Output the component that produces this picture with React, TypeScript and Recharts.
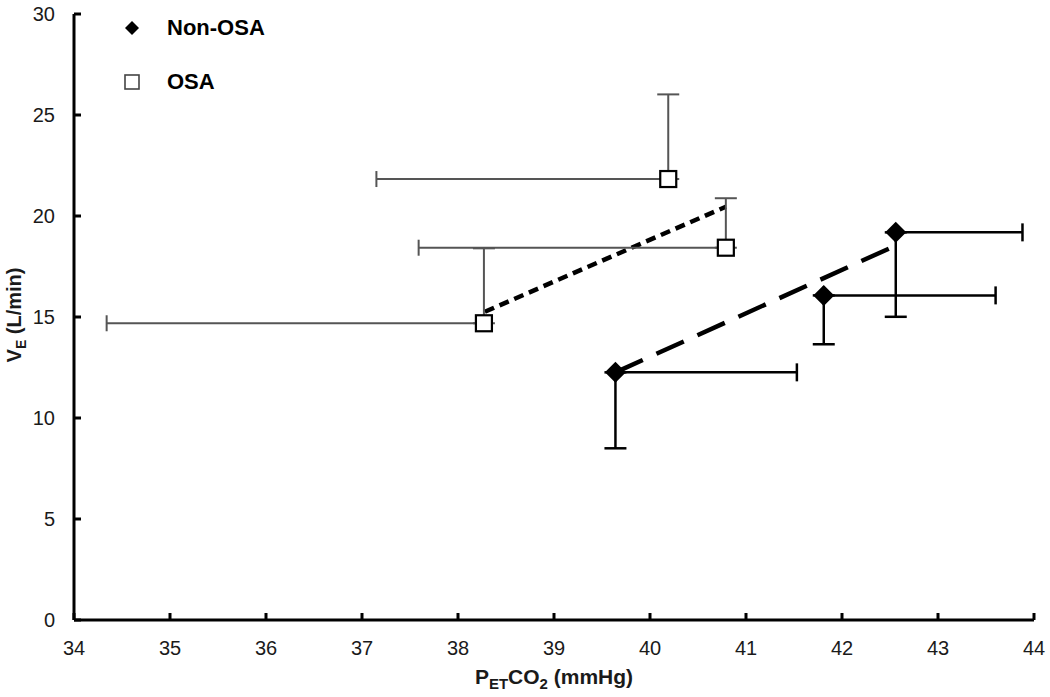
import React from "react";
import {
  ComposedChart,
  Scatter,
  XAxis,
  YAxis,
  ErrorBar,
  ReferenceLine,
  Legend,
} from "recharts";

// ---- data ----
const xTicks = [34, 35, 36, 37, 38, 39, 40, 41, 42, 43, 44];
const yTicks = [0, 5, 10, 15, 20, 25, 30];

const nonOsaX = [39.64, 41.81, 42.56];
const nonOsaY = [12.26, 16.07, 19.19];
const nonOsaXErrRight = [1.89, 1.79, 1.32];
const nonOsaYErrDown = [3.76, 2.42, 4.18];

const osaX = [38.27, 40.19, 40.79];
const osaY = [14.69, 21.83, 18.43];
const osaXErrLeft = [3.93, 3.04, 3.2];
const osaYErrUp = [3.71, 4.19, 2.45];

const osaTrendX = [38.28, 40.79];
const osaTrendY = [15.26, 20.46];
const nonOsaTrendX = [39.64, 42.57];
const nonOsaTrendY = [12.26, 18.56];

const nonOsaData = nonOsaX.map((x, i) => ({
  x,
  y: nonOsaY[i],
  ex: [0, nonOsaXErrRight[i]],
  ey: [nonOsaYErrDown[i], 0],
}));
const osaData = osaX.map((x, i) => ({
  x,
  y: osaY[i],
  ex: [osaXErrLeft[i], 0],
  ey: [0, osaYErrUp[i]],
}));

const FONT = "'Liberation Sans', Arial, sans-serif";

const Diamond = (props: any) => {
  const { cx, cy } = props;
  const r = 10.5;
  return (
    <path
      d={`M${cx},${cy - r}L${cx + r},${cy}L${cx},${cy + r}L${cx - r},${cy}Z`}
      fill="#000"
    />
  );
};

const Square = (props: any) => {
  const { cx, cy } = props;
  const h = 8;
  return (
    <rect
      x={cx - h}
      y={cy - h}
      width={2 * h}
      height={2 * h}
      fill="#fff"
      stroke="#000"
      strokeWidth={2.2}
    />
  );
};

const XTick = (props: any) => {
  const { x, y, payload } = props;
  return (
    <g>
      <line x1={x} x2={x} y1={y} y2={y - 7} stroke="#000" strokeWidth={3} />
      <text
        x={x}
        y={y + 35}
        textAnchor="middle"
        fontFamily={FONT}
        fontSize={20}
        fill="#1a1a1a"
      >
        {payload.value}
      </text>
    </g>
  );
};

const YTick = (props: any) => {
  const { x, y, payload } = props;
  return (
    <g>
      <line x1={x} x2={x + 7} y1={y} y2={y} stroke="#000" strokeWidth={3} />
      <text
        x={x - 19}
        y={y + 7}
        textAnchor="end"
        fontFamily={FONT}
        fontSize={20}
        fill="#1a1a1a"
      >
        {payload.value}
      </text>
    </g>
  );
};

const LegendContent = () => (
  <div style={{ fontFamily: FONT, fontWeight: "bold", fontSize: 22, color: "#000" }}>
    <div style={{ position: "absolute", left: 0, top: 0, width: 200, height: 40 }}>
      <svg width={30} height={30} style={{ position: "absolute", left: 117, top: 13 }}>
        <path d="M15,8L22,15L15,22L8,15Z" fill="#000" />
      </svg>
      <span style={{ position: "absolute", left: 167, top: 15, whiteSpace: "nowrap", lineHeight: "26px" }}>
        Non-OSA
      </span>
    </div>
    <div style={{ position: "absolute", left: 0, top: 54, width: 200, height: 40 }}>
      <svg width={30} height={30} style={{ position: "absolute", left: 117, top: 13 }}>
        <rect x={8} y={8} width={14} height={14} fill="#fff" stroke="#444" strokeWidth={1.6} />
      </svg>
      <span style={{ position: "absolute", left: 167, top: 15, whiteSpace: "nowrap", lineHeight: "26px" }}>
        OSA
      </span>
    </div>
  </div>
);

export default function App() {
  return (
    <div style={{ position: "absolute", left: 0, top: 0, width: 1050, height: 697, background: "#fff" }}>
      <ComposedChart
        width={1050}
        height={697}
        margin={{ top: 14, right: 16, bottom: 0, left: 0 }}
      >
        <XAxis
          type="number"
          dataKey="x"
          domain={[34, 44]}
          ticks={xTicks}
          allowDataOverflow
          height={77}
          axisLine={{ stroke: "#000", strokeWidth: 3 }}
          tickLine={false}
          tickSize={0}
          tickMargin={0}
          tick={<XTick />}
          interval={0}
          label={{
            content: () => (
              <text
                x={554}
                y={684}
                textAnchor="middle"
                fontFamily={FONT}
                fontWeight="bold"
                fontSize={21}
                fill="#1a1a1a"
              >
                P
                <tspan fontSize={15} dy={5}>ET</tspan>
                <tspan dy={-5}>CO</tspan>
                <tspan fontSize={15} dy={5}>2</tspan>
                <tspan dy={-5}> (mmHg)</tspan>
              </text>
            ),
          }}
        />
        <YAxis
          type="number"
          dataKey="y"
          domain={[0, 30]}
          ticks={yTicks}
          allowDataOverflow
          width={74}
          axisLine={{ stroke: "#000", strokeWidth: 3 }}
          tickLine={false}
          tickSize={0}
          tickMargin={0}
          tick={<YTick />}
          interval={0}
          label={{
            content: () => (
              <text
                x={0}
                y={0}
                transform="translate(21,315) rotate(-90)"
                textAnchor="middle"
                fontFamily={FONT}
                fontWeight="bold"
                fontSize={20}
                fill="#1a1a1a"
              >
                V
                <tspan fontSize={14} dy={5}>E</tspan>
                <tspan dy={-5}> (L/min)</tspan>
              </text>
            ),
          }}
        />
        <Legend
          layout="horizontal"
          verticalAlign="middle"
          align="center"
          wrapperStyle={{ position: "absolute", left: 0, top: 0, width: 300, height: 100 }}
          content={<LegendContent />}
        />
        <ReferenceLine
          segment={[
            { x: osaTrendX[0], y: osaTrendY[0] },
            { x: osaTrendX[1], y: osaTrendY[1] },
          ]}
          stroke="#000"
          strokeWidth={4.5}
          strokeDasharray="10 6"
          ifOverflow="visible"
        />
        <ReferenceLine
          segment={[
            { x: nonOsaTrendX[0], y: nonOsaTrendY[0] },
            { x: nonOsaTrendX[1], y: nonOsaTrendY[1] },
          ]}
          stroke="#000"
          strokeWidth={4.5}
          strokeDasharray="30 15"
          ifOverflow="visible"
        />
        <Scatter
          name="OSA"
          data={osaData}
          shape={<Square />}
          isAnimationActive={false}
        >
          <ErrorBar dataKey="ex" direction="x" width={8} stroke="#555" strokeWidth={2} />
          <ErrorBar dataKey="ey" direction="y" width={11} stroke="#555" strokeWidth={2} />
        </Scatter>
        <Scatter
          name="Non-OSA"
          data={nonOsaData}
          shape={<Diamond />}
          isAnimationActive={false}
        >
          <ErrorBar dataKey="ex" direction="x" width={9} stroke="#000" strokeWidth={2.5} />
          <ErrorBar dataKey="ey" direction="y" width={11} stroke="#000" strokeWidth={2.5} />
        </Scatter>
      </ComposedChart>
    </div>
  );
}
